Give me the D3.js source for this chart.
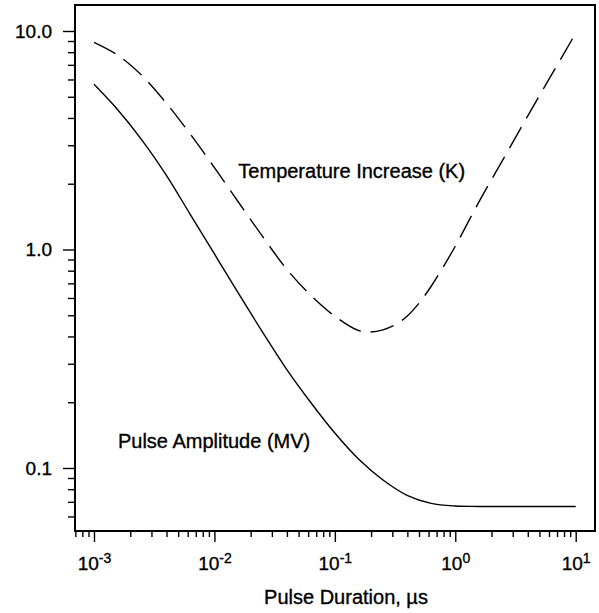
<!DOCTYPE html>
<html lang="en">
<head>
  <meta charset="UTF-8">
  <title>Pulse Duration</title>
  <style>
    body { margin: 0; background: #fff; }
    text { font-family: Arial, "Liberation Sans", sans-serif; fill: #000; stroke: #000; stroke-width: 0.35px; }
  </style>
</head>
<body>
  <div class="canvas"></div>

  <script src="https://cdnjs.cloudflare.com/ajax/libs/d3/7.8.5/d3.min.js"></script>
  <script>
// data
const ampDuration = [1e-3, 1.58e-3, 2.51e-3, 3.98e-3, 6.31e-3, 1e-2, 1.58e-2, 2.51e-2, 3.98e-2, 6.31e-2, 0.1, 0.158, 0.251, 0.398, 0.631, 1, 1.58, 10];
const amplitude   = [5.70, 4.35, 3.16, 2.19, 1.445, 0.955, 0.631, 0.419, 0.283, 0.1995, 0.1445, 0.1096, 0.0881, 0.075, 0.0689, 0.0670, 0.0667, 0.0667];

const tempDuration = [1e-3, 1.58e-3, 2.51e-3, 3.98e-3, 6.31e-3, 1e-2, 1.58e-2, 2.51e-2, 3.98e-2, 6.31e-2, 0.1, 0.158, 0.2, 0.251, 0.316, 0.398, 0.501, 0.631, 0.794, 1, 1.58, 2.51, 3.98, 6.31, 10];
const temperature  = [8.87, 7.74, 6.24, 4.68, 3.37, 2.37, 1.65, 1.148, 0.813, 0.617, 0.495, 0.425, 0.419, 0.429, 0.452, 0.495, 0.569, 0.679, 0.832, 1.035, 1.66, 2.6, 4.07, 6.31, 9.77];

const xMajor = [1e-3, 1e-2, 1e-1, 1e0, 1e1];
const xExponents = ['-3', '-2', '-1', '0', '1'];
const yMajor = [0.1, 1, 10];

const labels = [
  {text: 'Temperature Increase (K)', x: 0.0158, y: 2.12},
  {text: 'Pulse Amplitude (MV)', x: 1.58e-3, y: 0.123}
];

// minor ticks for every decade
const minors = (lo, hi) => {
  const out = [];
  for (let e = lo; e <= hi; e++) {
    for (let m = 2; m <= 9; m++) out.push(m * Math.pow(10, e));
  }
  return out;
};
const xMinor = minors(-4, 0).filter(d => d > 6.9e-4);
const yMinor = minors(-2, 0).filter(d => d > 0.055);

const svg = d3.select('.canvas')
  .append('svg')
    .attr('width', 599)
    .attr('height', 613);

// frame edges
const frame = {left: 75, right: 595, top: 5, bottom: 531};

const x = d3.scaleLog()
  .domain([1e-3, 10])
  .range([94, 575.7]);

const y = d3.scaleLog()
  .domain([0.1, 10])
  .range([468, 31]);

// plot frame
svg.append('rect')
  .attr('x', frame.left)
  .attr('y', frame.top)
  .attr('width', frame.right - frame.left)
  .attr('height', frame.bottom - frame.top)
  .attr('fill', 'none')
  .attr('stroke', '#000')
  .attr('stroke-width', 2);

// axes
const xMinorGroup = svg.append('g')
  .attr('transform', `translate(0, ${frame.bottom})`)
  .call(d3.axisBottom(x).tickValues(xMinor).tickSize(6).tickFormat(''));

const xAxisGroup = svg.append('g')
  .attr('transform', `translate(0, ${frame.bottom})`)
  .call(d3.axisBottom(x).tickValues(xMajor).tickSize(11).tickFormat(''));

const yMinorGroup = svg.append('g')
  .attr('transform', `translate(${frame.left}, 0)`)
  .call(d3.axisLeft(y).tickValues(yMinor).tickSize(7).tickFormat(''));

const yAxisGroup = svg.append('g')
  .attr('transform', `translate(${frame.left}, 0)`)
  .call(d3.axisLeft(y).tickValues(yMajor).tickSize(12).tickPadding(11).tickFormat(d3.format('.1f')));

[xMinorGroup, xAxisGroup, yMinorGroup, yAxisGroup].forEach(g => {
  g.select('.domain').remove();
  g.selectAll('line').attr('stroke', '#000').attr('stroke-width', 1.4);
});

yAxisGroup.selectAll('text')
  .attr('font-size', 19)
  .attr('font-family', null)
  .attr('fill', null);

// x labels as powers of ten
xAxisGroup.selectAll('.tick text')
  .attr('y', 39)
  .attr('dy', 0)
  .attr('font-size', 19)
  .attr('font-family', null)
  .attr('fill', null)
  .each(function(d, i) {
    const t = d3.select(this);
    t.append('tspan').text('10');
    t.append('tspan')
      .attr('dy', -7)
      .attr('font-size', 14)
      .text(xExponents[i]);
  });

// curves
const line = d3.line()
  .x(d => x(d[0]))
  .y(d => y(d[1]))
  .curve(d3.curveCatmullRom.alpha(0.5));

svg.append('path')
  .datum(d3.zip(ampDuration, amplitude))
  .attr('fill', 'none')
  .attr('stroke', '#000')
  .attr('stroke-width', 1.4)
  .attr('d', line);

svg.append('path')
  .datum(d3.zip(tempDuration, temperature))
  .attr('fill', 'none')
  .attr('stroke', '#000')
  .attr('stroke-width', 1.4)
  .attr('stroke-dasharray', '24,10')
  .attr('d', line);

// curve labels
svg.selectAll('.label')
  .data(labels)
  .enter()
  .append('text')
    .attr('class', 'label')
    .attr('x', d => x(d.x))
    .attr('y', d => y(d.y))
    .attr('font-size', 20)
    .text(d => d.text);

// axis title
svg.append('text')
  .attr('x', 346)
  .attr('y', 604)
  .attr('text-anchor', 'middle')
  .attr('font-size', 20)
  .text('Pulse Duration, \u00b5s');
  </script>
</body>
</html>
